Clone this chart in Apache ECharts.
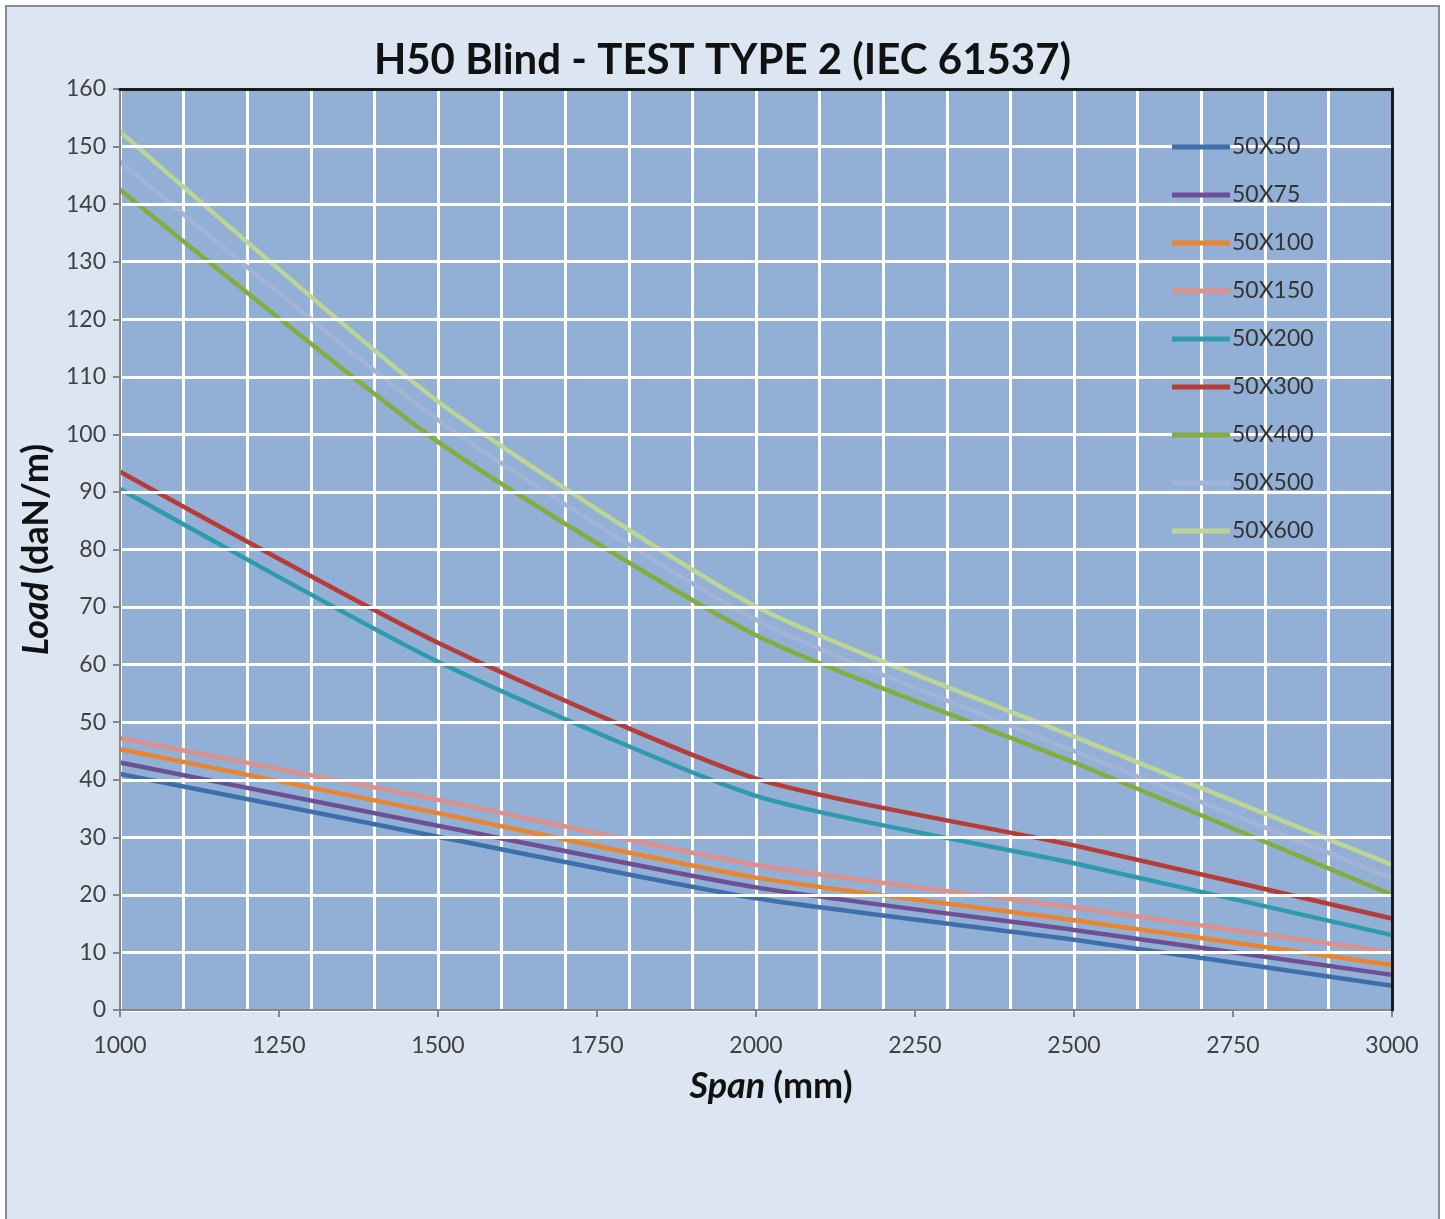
<!DOCTYPE html>
<html>
<head>
<meta charset="utf-8">
<script src="https://cdn.jsdelivr.net/npm/echarts@6/dist/echarts.min.js"></script>
<style>
  html, body { margin: 0; padding: 0; background: #ffffff; }
  #chart { width: 1445px; height: 1219px; }
</style>
</head>
<body>
<div id="chart"></div>
<script>
// Span values (mm) at which the loads were measured
const spans = [1000, 1500, 2000, 2500, 3000];

// Allowed load (daN/m) for each profile size
const load50x50  = [41.0, 30.1, 19.4, 12.2, 4.2];
const load50x75  = [43.0, 32.0, 21.3, 13.9, 6.1];
const load50x100 = [45.3, 34.2, 23.0, 15.6, 7.8];
const load50x150 = [47.2, 36.5, 25.2, 17.8, 10.0];
const load50x200 = [90.5, 60.5, 37.2, 25.5, 13.0];
const load50x300 = [93.5, 63.8, 40.2, 28.6, 15.9];
const load50x400 = [142.5, 98.7, 65.1, 43.0, 20.0];
const load50x500 = [147.4, 102.5, 67.8, 45.0, 22.9];
const load50x600 = [152.6, 105.7, 70.1, 47.5, 25.2];

const seriesNames = ['50X50', '50X75', '50X100', '50X150', '50X200', '50X300', '50X400', '50X500', '50X600'];
const seriesValues = [load50x50, load50x75, load50x100, load50x150, load50x200, load50x300, load50x400, load50x500, load50x600];
const seriesColors = ['#3f6faa', '#6f4f93', '#eb842e', '#de918b', '#2f9aad', '#b53c37', '#84ac3e', '#a3b2d6', '#bdd594'];

const FONT = 'Lato, "Open Sans", sans-serif';
const GREY = '#404040';

const chart = echarts.init(document.getElementById('chart'), null, { renderer: 'canvas' });

const series = seriesNames.map((name, i) => ({
  name: name,
  type: 'line',
  xAxisIndex: 0,
  yAxisIndex: 0,
  data: spans.map((s, k) => [s, seriesValues[i][k]]),
  smooth: 0.2,
  symbol: 'none',
  lineStyle: { width: 4.5, color: seriesColors[i] },
  itemStyle: { color: seriesColors[i] },
  z: 3
}));

const axisNameRich = {
  i: { fontFamily: FONT, fontSize: 36, fontWeight: 'bold', fontStyle: 'italic', color: '#111111' },
  b: { fontFamily: FONT, fontSize: 36, fontWeight: 'bold', color: '#111111' }
};

chart.setOption({
  backgroundColor: '#ffffff',
  animation: false,
  graphic: [{
    type: 'rect',
    left: 5, top: 5,
    shape: { width: 1433, height: 1230 },
    style: { fill: '#dce6f2', stroke: '#8c8c8c', lineWidth: 2 },
    z: -10
  }],
  title: {
    text: 'H50 Blind - TEST TYPE 2 (IEC 61537)',
    left: 'center',
    top: 34,
    textStyle: { fontFamily: FONT, fontSize: 42, fontWeight: 'bold', color: '#111111' }
  },
  grid: {
    left: 120, right: 53, top: 89, bottom: 209,
    show: true,
    backgroundColor: '#92b0d5',
    borderWidth: 0
  },
  legend: {
    orient: 'vertical',
    left: 1167,
    top: 130,
    z: 20,
    icon: 'rect',
    itemWidth: 58,
    itemHeight: 5,
    itemGap: 24,
    data: seriesNames,
    textStyle: { fontFamily: FONT, fontSize: 23, color: '#333333', lineHeight: 24, padding: [0, 0, 0, -3] }
  },
  xAxis: [{
    type: 'value',
    min: 1000, max: 3000, interval: 250,
    name: '{i|Span }{b|(mm)}',
    nameLocation: 'middle',
    nameGap: 58,
    nameTextStyle: { rich: axisNameRich, padding: [0, 0, 0, 30] },
    axisLine: { show: true, lineStyle: { color: '#868686', width: 2 } },
    axisTick: { show: true, length: 7, lineStyle: { color: '#868686', width: 2 } },
    axisLabel: { fontFamily: FONT, fontSize: 23, color: GREY, margin: 24, formatter: v => String(v) },
    splitLine: { show: false },
    z: 5
  }, {
    // finer vertical gridlines every 100 mm
    type: 'value',
    min: 1000, max: 3000, interval: 100,
    position: 'bottom',
    axisLine: { show: false },
    axisTick: { show: false },
    axisLabel: { show: false },
    splitLine: { show: true, lineStyle: { color: '#ffffff', width: 3 } }
  }, {
    // dark frame along the top of the plot area
    type: 'value',
    min: 1000, max: 3000,
    position: 'top',
    axisLine: { show: true, lineStyle: { color: '#1a1a1a', width: 3 } },
    axisTick: { show: false },
    axisLabel: { show: false },
    splitLine: { show: false },
    z: 6
  }],
  yAxis: [{
    type: 'value',
    min: 0, max: 160, interval: 10,
    name: '{i|Load }{b|(daN/m)}',
    nameLocation: 'middle',
    nameGap: 66,
    nameRotate: 90,
    nameTextStyle: { rich: axisNameRich },
    axisLine: { show: true, lineStyle: { color: '#868686', width: 2 } },
    axisTick: { show: true, length: 7, lineStyle: { color: '#868686', width: 2 } },
    axisLabel: { fontFamily: FONT, fontSize: 23, color: GREY, margin: 14 },
    splitLine: { show: true, lineStyle: { color: '#ffffff', width: 3 } },
    z: 5
  }, {
    // dark frame along the right edge of the plot area
    type: 'value',
    min: 0, max: 160,
    position: 'right',
    axisLine: { show: true, lineStyle: { color: '#1a1a1a', width: 3 } },
    axisTick: { show: false },
    axisLabel: { show: false },
    splitLine: { show: false },
    z: 6
  }],
  series: series
});
</script>
</body>
</html>
